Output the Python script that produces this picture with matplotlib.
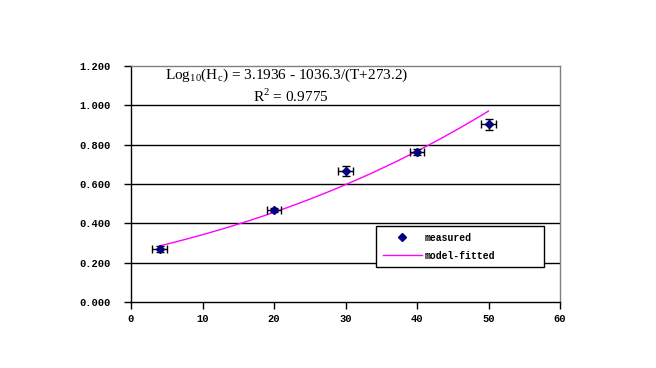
import numpy as np
import matplotlib
matplotlib.use("Agg")
import matplotlib.pyplot as plt
from matplotlib.ticker import FixedLocator, FormatStrFormatter

# Data
temps = [4, 20, 30, 40, 50]
measured = [0.270, 0.467, 0.665, 0.763, 0.903]
x_err = [1.0, 1.0, 1.0, 1.0, 1.0]
y_err = [0.017, 0.010, 0.025, 0.015, 0.028]
fit_a, fit_b, fit_c = 3.1936, 1036.3, 273.2
fit_T = np.linspace(4, 50, 100)
fit_H = 10 ** (fit_a - fit_b / (fit_T + fit_c))

x_ticks = [0, 10, 20, 30, 40, 50, 60]
y_ticks = [0.0, 0.2, 0.4, 0.6, 0.8, 1.0, 1.2]

fig = plt.figure(figsize=(6.56, 3.68), dpi=100)
ax = fig.add_axes([131/656, 1-302/368, (560-131)/656, (302-66)/368])

mono = "Liberation Mono"
for y in y_ticks[1:-1]:
    ax.axhline(y, color="black", lw=1.0, zorder=1)

ax.plot(fit_T, fit_H, color="#FF00FF", lw=1.0, zorder=2, label="model-fitted")
ax.errorbar(temps, measured, xerr=x_err, yerr=y_err, fmt="none",
            ecolor="black", elinewidth=1.0, capsize=3, capthick=1.0, zorder=3)
ax.plot(temps, measured, linestyle="none", marker="D", markersize=4,
        color="#000080", zorder=4, label="measured")

ax.set_xlim(0, 60)
ax.set_ylim(0, 1.2)
ax.xaxis.set_major_locator(FixedLocator(x_ticks))
ax.yaxis.set_major_locator(FixedLocator(y_ticks))
ax.yaxis.set_major_formatter(FormatStrFormatter("%.3f"))
ax.tick_params(direction="out", length=5, width=1.0, color="black",
               labelsize=7.5)
for lab in ax.get_xticklabels() + ax.get_yticklabels():
    lab.set_family(mono)
    lab.set_weight("bold")
ax.tick_params(axis="x", pad=4)
ax.tick_params(axis="y", pad=10)

ax.spines["left"].set_color("black")
ax.spines["bottom"].set_color("black")
ax.spines["top"].set_color("#808080")
ax.spines["right"].set_color("#808080")
for s in ax.spines.values():
    s.set_linewidth(1.0)

fig.text(287/656, 1-75/368,
         r"Log$_{\mathregular{10}}$(H$_{\mathregular{c}}$) = 3.1936 - 1036.3/(T+273.2)",
         family="Liberation Serif", fontsize=11, ha="center", va="center")
fig.text(291/656, 1-96/368, r"R$^{\mathregular{2}}$ = 0.9775",
         family="Liberation Serif", fontsize=11, ha="center", va="center")

handles, labels = ax.get_legend_handles_labels()
x0 = (376-131)/(560-131)
w = (544-376)/(560-131)
ytop = (302-226)/(302-66)
h = (267-226)/(302-66)
leg = ax.legend([handles[1], handles[0]], [labels[1], labels[0]],
                loc="upper left", mode="expand",
                bbox_to_anchor=(x0, ytop - h, w, h),
                prop={"family": mono, "size": 7, "weight": "bold"},
                frameon=True, fancybox=False, edgecolor="black",
                framealpha=1.0, borderpad=0.7, handlelength=4.0,
                handletextpad=0.3, labelspacing=0.8, borderaxespad=0)
leg.get_frame().set_linewidth(1.0)
leg.set_zorder(5)

fig.savefig("out.png", dpi=100)
